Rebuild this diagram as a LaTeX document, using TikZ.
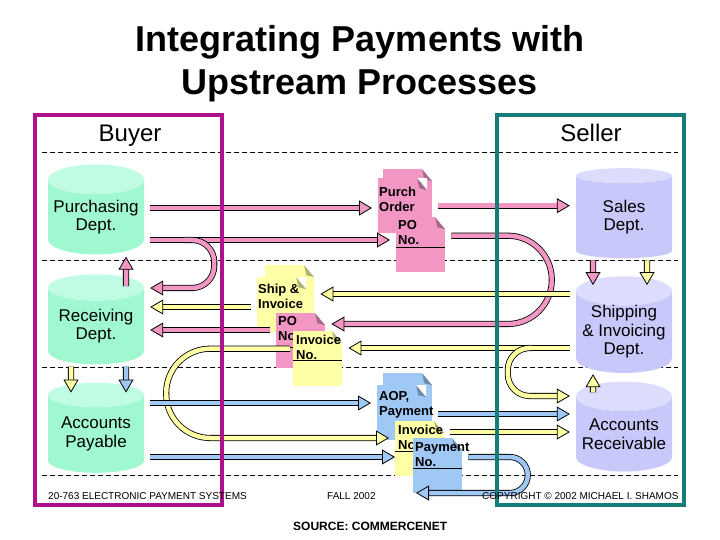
\documentclass[tikz,border=0pt]{standalone}
\usepackage{fontspec}
\setmainfont{Liberation Sans}
\usetikzlibrary{shapes.geometric}
\usetikzlibrary{arrows.meta}

\definecolor{buyerframe}{RGB}{176,16,140}
\definecolor{sellerframe}{RGB}{20,125,120}
\definecolor{mintbody}{RGB}{160,248,208}
\definecolor{minttop}{RGB}{192,252,228}
\definecolor{lavbody}{RGB}{200,200,250}
\definecolor{lavtop}{RGB}{220,220,252}
\definecolor{pinkc}{RGB}{242,150,195}
\definecolor{yellowc}{RGB}{255,255,165}
\definecolor{bluec}{RGB}{160,200,245}

\begin{document}
\begin{tikzpicture}[
    x=1pt, y=-1pt, % pixel grid, y runs down the page
    dept/.style={
        cylinder, shape border rotate=90, aspect=0.35, % upright drum
        minimum width=96pt, minimum height=90pt,
        inner sep=0pt,
        cylinder uses custom fill,
        align=center,
        font=\fontsize{17}{18.5}\selectfont
    },
    buyerdept/.style={dept, cylinder body fill=mintbody, cylinder end fill=minttop},
    sellerdept/.style={dept, cylinder body fill=lavbody, cylinder end fill=lavtop},
    page/.style={
        anchor=north west, inner sep=0pt,
        minimum width=49pt, minimum height=55pt,
        fill=#1,
        path picture={ % dog-eared corner
            \fill[white] ([xshift=-10pt]path picture bounding box.north east)
                -- (path picture bounding box.north east)
                -- ([yshift=-12pt]path picture bounding box.north east) -- cycle;
            \fill[black, opacity=0.3] ([xshift=-10pt]path picture bounding box.north east)
                -- ([yshift=-12pt]path picture bounding box.north east)
                -- ([xshift=-8pt, yshift=-10pt]path picture bounding box.north east) -- cycle;
        }
    },
    doclabel/.style={anchor=north west, align=left, inner sep=0pt,
        font=\bfseries\fontsize{13}{15}\selectfont},
    flow/.style={ % fat outlined arrow
        line width=0.8pt, draw=black, double=#1, double distance=4.5pt,
        shorten <=6pt, shorten >=6pt,
        -{Triangle[length=13pt, width=15pt, fill=#1]}
    },
    rowline/.style={line width=0.7pt, dash pattern=on 5pt off 3pt},
    frame/.style={line width=3.5pt, draw=#1},
    footer/.style={anchor=base west, inner sep=0pt, font=\fontsize{10}{12}\selectfont}
]
\useasboundingbox (0,0) rectangle (720,540);

% title
\node[font=\bfseries\fontsize{36}{43}\selectfont, align=center, inner sep=0pt] (title) at (360,64)
    {Integrating Payments with\\Upstream Processes};

% dashed row separators
\foreach \y in {152,260,367,475}
    \draw[rowline] (42,\y) -- (678,\y);

% departments
\node[buyerdept] (purch) at (96,217) {Purchasing\\Dept.};
\node[buyerdept] (recv) at (96,326) {Receiving\\Dept.};
\node[buyerdept] (pay) at (96,434) {Accounts\\Payable};
\node[sellerdept] (sales) at (624,217) {Sales\\Dept.};
\node[sellerdept] (ship) at (624,332) {Shipping\\\& Invoicing\\Dept.};
\node[sellerdept] (recvbl) at (624,434) {Accounts\\Receivable};

% documents
\node[page=pinkc] (p1b) at (383,169) {};
\node[page=pinkc] (p1) at (378,178) {};
\node[doclabel] (l1) at ([shift={(1,9)}]p1.north west) {Purch\\Order};
\node[page=pinkc] (p2) at (396,217) {};
\draw ([shift={(0,30)}]p2.north west) -- ([shift={(0,30)}]p2.north east);
\node[doclabel] (l2) at ([shift={(2,3)}]p2.north west) {PO\\No.};

\node[page=yellowc] (p3b) at (265,265) {};
\node[page=yellowc] (p3) at (257,277) {};
\node[doclabel] (l3) at ([shift={(1,7)}]p3.north west) {Ship \&\\Invoice};
\node[page=pinkc] (p4) at (276,313) {};
\draw ([shift={(0,34)}]p4.north west) -- ([shift={(0,34)}]p4.north east);
\node[doclabel] (l4) at ([shift={(2,3)}]p4.north west) {PO\\No};
\node[page=yellowc] (p5) at (293,331) {};
\draw ([shift={(0,29)}]p5.north west) -- ([shift={(0,29)}]p5.north east);
\node[doclabel] (l5) at ([shift={(3,4)}]p5.north west) {Invoice\\No.};

\node[page=bluec] (p6b) at (383,373) {};
\node[page=bluec] (p6) at (377,385) {};
\node[doclabel] (l6) at ([shift={(2,6)}]p6.north west) {AOP,\\Payment};
\node[page=yellowc] (p7) at (395,421) {};
\draw ([shift={(0,30)}]p7.north west) -- ([shift={(0,30)}]p7.north east);
\node[doclabel] (l7) at ([shift={(3,4)}]p7.north west) {Invoice\\No};
\node[page=bluec] (p8) at (413,438) {};
\draw ([shift={(0,30)}]p8.north west) -- ([shift={(0,30)}]p8.north east);
\node[doclabel] (l8) at ([shift={(2,4)}]p8.north west) {Payment\\No.};

% purchase order flows
\draw[flow=pinkc] ([shift={(0,-9)}]purch.east) -- ([shift={(0,-9)}]p1.west |- purch.east);
\draw[flow=pinkc] ([shift={(0,23)}]purch.east) -- ([shift={(0,23)}]p2.west |- purch.east);
\draw[flow=pinkc, rounded corners=22pt, shorten <=0pt] ([shift={(40,23)}]purch.east)
    -| ([shift={(70,-38)}]recv.east) -- ([shift={(0,-38)}]recv.east);
\draw[flow=pinkc] (p1b.east |- p1.east) -- (sales.west |- p1.east);
\draw[flow=pinkc, rounded corners=44pt] ([shift={(0,-9)}]p2.east)
    -| ([shift={(-24,-8)}]ship.west) -- ([shift={(0,-8)}]p4.east |- ship.west);
\draw[flow=pinkc] ([shift={(0,4)}]p4.west |- recv.east) -- ([shift={(0,4)}]recv.east);

% shipping and invoice flows
\draw[flow=yellowc] ([shift={(0,-38)}]ship.west) -- ([shift={(0,-38)}]p3b.east |- ship.west);
\draw[flow=yellowc] ([shift={(0,-19)}]p3.west |- recv.east) -- ([shift={(0,-19)}]recv.east);
\draw[flow=yellowc] ([shift={(0,16)}]ship.west) -- ([shift={(0,16)}]p5.east |- ship.west);
\draw[flow=yellowc, rounded corners=22pt, shorten <=0pt] ([shift={(-44,16)}]ship.west)
    -| ([shift={(-68,-38)}]recvbl.west) -- ([shift={(0,-38)}]recvbl.west);
\draw[flow=yellowc, rounded corners=44pt, shorten <=0pt] ([shift={(-3,-10)}]p5.west)
    -| ([shift={(22,4)}]pay.east) -- ([shift={(0,4)}]p7.west |- pay.east);
\draw[flow=yellowc] ([shift={(0,-2)}]p7.east |- recvbl.west) -- ([shift={(0,-2)}]recvbl.west);

% payment flows
\draw[flow=bluec] ([shift={(0,-31)}]pay.east) -- ([shift={(0,-31)}]p6.west |- pay.east);
\draw[flow=bluec, shorten >=0pt] ([shift={(0,23)}]pay.east) -- ([shift={(0,23)}]p7.west |- pay.east);
\draw[flow=bluec] ([shift={(0,-20)}]p6b.east |- recvbl.west) -- ([shift={(0,-20)}]recvbl.west);
\draw[flow=bluec, rounded corners=18pt, shorten >=3pt] ([shift={(0,23)}]p8.east |- pay.east)
    -| ([shift={(-48,59)}]recvbl.west) -- ([shift={(0,59)}]p8.west |- recvbl.west);

% flows between departments
\draw[flow=pinkc, shorten <=0pt, shorten >=2pt] ([shift={(30,12)}]recv.north) -- ([shift={(30,0)}]purch.south);
\draw[flow=yellowc, shorten <=2pt, shorten >=0pt] ([shift={(-25,0)}]recv.south) -- ([shift={(-25,10)}]pay.north);
\draw[flow=bluec, shorten <=2pt, shorten >=0pt] ([shift={(30,0)}]recv.south) -- ([shift={(30,10)}]pay.north);
\draw[flow=pinkc, shorten <=2pt, shorten >=0pt] ([shift={(-31,0)}]sales.south) -- ([shift={(-31,9)}]ship.north);
\draw[flow=yellowc, shorten <=2pt, shorten >=0pt] ([shift={(23,0)}]sales.south) -- ([shift={(23,9)}]ship.north);
\draw[flow=yellowc, shorten <=0pt, shorten >=1pt] ([shift={(-31,11)}]recvbl.north) -- ([shift={(-31,0)}]ship.south);

% buyer and seller frames
\draw[frame=buyerframe] (35,115) rectangle (222,505);
\draw[frame=sellerframe] (497,115) rectangle (684,505);
\node[anchor=base, font=\fontsize{24}{28}\selectfont] (buyer) at (130,142) {Buyer};
\node[anchor=base, font=\fontsize{24}{28}\selectfont] (seller) at (591,142) {Seller};

% footer
\node[footer] (course) at (48,499) {20-763 ELECTRONIC PAYMENT SYSTEMS};
\node[footer] (term) at (327,499) {FALL 2002};
\node[footer] (copy) at (482,499) {COPYRIGHT © 2002 MICHAEL I. SHAMOS};
\node[footer, font=\bfseries\fontsize{12}{14}\selectfont] (source) at (293,530) {SOURCE: COMMERCENET};
\end{tikzpicture}
\end{document}
